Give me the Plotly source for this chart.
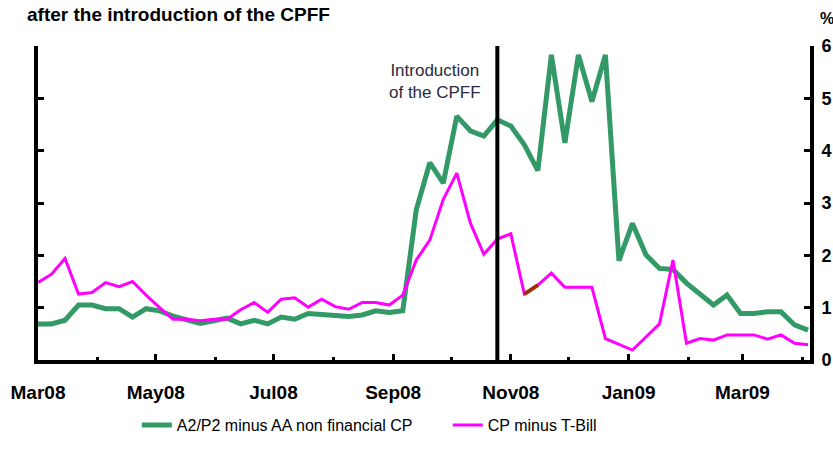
import pandas as pd
import plotly.graph_objects as go

# Weekly observations, Mar 2008 - Apr 2009
dates = pd.date_range("2008-03-01", periods=58, freq="7D")

a2p2_minus_aa = [
    0.69, 0.69, 0.76, 1.05, 1.05, 0.98, 0.98, 0.82, 0.98, 0.94,
    0.84, 0.78, 0.70, 0.75, 0.80, 0.69, 0.76, 0.69, 0.82, 0.78,
    0.89, 0.87, 0.86, 0.83, 0.86, 0.94, 0.91, 0.94, 2.87, 3.77,
    3.38, 4.66, 4.38, 4.28, 4.59, 4.47, 4.11, 3.62, 5.83, 4.15,
    5.83, 4.94, 5.83, 1.90, 2.61, 2.01, 1.75, 1.73, 1.47, 1.27,
    1.05, 1.24, 0.89, 0.89, 0.92, 0.92, 0.67, 0.57,
]

cp_minus_tbill = [
    1.48, 1.64, 1.94, 1.26, 1.29, 1.48, 1.40, 1.50, 1.24, 1.00,
    0.78, 0.78, 0.75, 0.78, 0.78, 0.96, 1.10, 0.91, 1.16, 1.19,
    1.01, 1.16, 1.02, 0.97, 1.10, 1.10, 1.05, 1.24, 1.91, 2.29,
    3.07, 3.57, 2.62, 2.02, 2.31, 2.41, 1.26, 1.43, 1.66, 1.39,
    1.39, 1.39, 0.41, 0.30, 0.19, 0.44, 0.69, 1.91, 0.32, 0.41,
    0.38, 0.48, 0.48, 0.48, 0.40, 0.48, 0.32, 0.29,
]

series_names = ["A2/P2 minus AA non financial CP", "CP minus T-Bill"]
highlight_idx = [36, 37]          # short segment drawn in brown
cpff_date = "2008-10-25"
y_ticks = [0, 1, 2, 3, 4, 5, 6]

fig = go.Figure()
fig.add_trace(go.Scatter(
    x=dates, y=a2p2_minus_aa, mode="lines", name=series_names[0],
    line=dict(color="#339966", width=5),
))
fig.add_trace(go.Scatter(
    x=dates, y=cp_minus_tbill, mode="lines", name=series_names[1],
    line=dict(color="#FF00FF", width=3),
))
fig.add_trace(go.Scatter(
    x=[dates[i] for i in highlight_idx],
    y=[cp_minus_tbill[i] for i in highlight_idx],
    mode="lines", showlegend=False,
    line=dict(color="#993300", width=4),
))

fig.add_shape(type="line", xref="x", yref="y",
              x0=cpff_date, x1=cpff_date, y0=0, y1=6,
              line=dict(color="black", width=4))

fig.add_annotation(text="Introduction<br>of the CPFF", xref="paper", yref="paper",
                   x=0.514, y=0.888, xanchor="center", yanchor="middle",
                   showarrow=False, align="center",
                   font=dict(family="Liberation Sans", size=17, color="#2a2a40"))

fig.add_annotation(text="<b>after the introduction of the CPFF</b>", xref="paper", yref="paper",
                   x=-0.0168, y=1.099, xanchor="left", yanchor="middle",
                   showarrow=False,
                   font=dict(family="Liberation Sans", size=19, color="black"))

fig.add_annotation(text="<b>%</b>", xref="paper", yref="paper",
                   x=1.0104, y=1.089, xanchor="left", yanchor="middle",
                   showarrow=False,
                   font=dict(family="Liberation Sans", size=16, color="black"))

fig.update_layout(
    width=833, height=450,
    margin=dict(l=38, r=23, t=46, b=90, autoexpand=False),
    plot_bgcolor="white", paper_bgcolor="white",
    font=dict(family="Liberation Sans", color="black"),
    showlegend=True,
    legend=dict(orientation="h", x=0.128, y=-0.207, xanchor="left", yanchor="middle",
                font=dict(size=16, color="black"),
                entrywidth=266, entrywidthmode="pixels",
                bgcolor="rgba(0,0,0,0)"),
)

fig.update_xaxes(
    type="date", range=["2008-03-01", "2009-04-05"],
    showline=True, linewidth=4, linecolor="black", mirror=False,
    showgrid=False, zeroline=False,
    ticks="inside", ticklen=6, tickwidth=3, tickcolor="black",
    tick0="2008-03-01", dtick="M2", tickformat="%b%y",
    tickfont=dict(size=19, family="Liberation Sans", weight="bold"),
    ticklabelstandoff=12,
    minor=dict(ticks="inside", ticklen=3, tickwidth=3, tickcolor="black",
               dtick="M1", tick0="2008-03-01", showgrid=False),
)

fig.update_yaxes(
    range=[0, 6], side="right", tickvals=y_ticks,
    showline=True, linewidth=4, linecolor="black", mirror="ticks",
    showgrid=False, zeroline=False,
    ticks="inside", ticklen=6, tickwidth=3, tickcolor="black",
    tickfont=dict(size=18, family="Liberation Sans", weight="bold"),
    ticklabelstandoff=4,
)

fig.write_html("out.html",
               config={"displayModeBar": False},
               post_script="document.body.style.margin='0';document.body.style.padding='0';")
